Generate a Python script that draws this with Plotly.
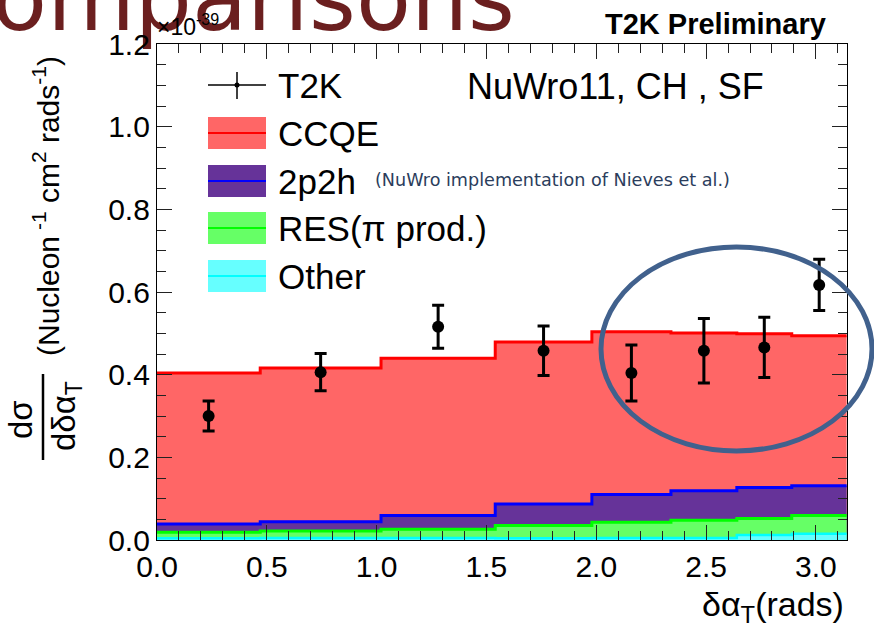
import numpy as np
import plotly.graph_objects as go

# ---------------- data (units of 1e-39 cm^2 / nucleon / rad) ----------------
bin_edges = [0.0, 0.47, 1.02, 1.54, 1.98, 2.34, 2.64, 2.89, 3.14]
other = [0.004, 0.005, 0.005, 0.004, 0.005, 0.005, 0.012, 0.015]
res = [0.015, 0.017, 0.021, 0.031, 0.038, 0.043, 0.040, 0.044]
twop2h = [0.020, 0.022, 0.033, 0.052, 0.067, 0.071, 0.075, 0.072]
ccqe = [0.365, 0.372, 0.381, 0.392, 0.394, 0.382, 0.372, 0.363]

t2k_x = [0.235, 0.745, 1.28, 1.76, 2.16, 2.49, 2.765, 3.015]
t2k_y = [0.300, 0.406, 0.516, 0.458, 0.404, 0.458, 0.466, 0.617]
t2k_err = [0.036, 0.045, 0.052, 0.060, 0.068, 0.078, 0.073, 0.062]

x_ticks = [0.0, 0.5, 1.0, 1.5, 2.0, 2.5, 3.0]
y_ticks = [0.0, 0.2, 0.4, 0.6, 0.8, 1.0, 1.2]

# stacked (cumulative) totals
c_other = np.array(other)
c_res = c_other + np.array(res)
c_2p2h = c_res + np.array(twop2h)
c_ccqe = c_2p2h + np.array(ccqe)

# ---------------- layout geometry (pixels) ----------------
W_FIG, H_FIG = 874, 630
L, R, T, B = 157, 847, 44, 540
PW, PH = R - L, B - T
X_MAX, Y_MAX = np.pi, 1.2


def px(xp):
    return (xp - L) / PW


def py(yp):
    return (B - yp) / PH


FONT = "Liberation Sans, Arial, Helvetica, sans-serif"

fig = go.Figure()


def step_trace(cum, fillcolor, linecolor, lw):
    ys = list(cum) + [cum[-1]]
    return go.Scatter(
        x=bin_edges, y=ys, mode="lines", line=dict(shape="hv", color=linecolor, width=lw),
        fill="tozeroy", fillcolor=fillcolor, showlegend=False, hoverinfo="skip",
    )


fig.add_trace(step_trace(c_ccqe, "#ff6666", "#ff0000", 3))
fig.add_trace(step_trace(c_2p2h, "#663399", "#0000ff", 3))
fig.add_trace(step_trace(c_res, "#66ff66", "#00ff00", 3))
fig.add_trace(step_trace(c_other, "#66ffff", "#00ffff", 2.5))

fig.add_trace(go.Scatter(
    x=t2k_x, y=t2k_y, mode="markers",
    marker=dict(color="black", size=12, symbol="circle"),
    error_y=dict(type="data", array=t2k_err, color="black", thickness=3, width=6),
    showlegend=False, hoverinfo="skip",
))

# slide title fragment, cut by the top edge of the picture.
# Anchored inside the plot range (so it is not hidden) and drawn above it without clipping.
fig.add_trace(go.Scatter(
    x=[px(515) * X_MAX], y=[py(52) * Y_MAX], mode="text", text=["omparisons"], textposition="top left",
    textfont=dict(family="DejaVu Sans", size=90, color="#6b1f1f"),
    cliponaxis=False, showlegend=False, hoverinfo="skip",
))

shapes = []
annotations = []

# legend symbols
shapes.append(dict(type="line", xref="paper", yref="paper", x0=px(208), x1=px(266), y0=py(85), y1=py(85),
                   line=dict(color="black", width=1.5)))
shapes.append(dict(type="line", xref="paper", yref="paper", x0=px(237), x1=px(237), y0=py(72), y1=py(99),
                   line=dict(color="black", width=1.5)))
shapes.append(dict(type="circle", xref="paper", yref="paper", x0=px(234.5), x1=px(239.5), y0=py(87.5), y1=py(82.5),
                   fillcolor="black", line=dict(color="black", width=0)))
legend_items = [
    ("CCQE", "#ff6666", "#ff0000", 133),
    ("2p2h", "#663399", "#0000ff", 181),
    ("RES(π prod.)", "#66ff66", "#00ff00", 228),
    ("Other", "#66ffff", "#00ffff", 276),
]
for label, fc, lc, yc in legend_items:
    shapes.append(dict(type="rect", xref="paper", yref="paper", x0=px(208), x1=px(266), y0=py(yc + 16), y1=py(yc - 16),
                       fillcolor=fc, line=dict(width=0)))
    shapes.append(dict(type="line", xref="paper", yref="paper", x0=px(208), x1=px(266), y0=py(yc), y1=py(yc),
                       line=dict(color=lc, width=2)))
for label, yc in [("T2K", 85)] + [(it[0], it[3]) for it in legend_items]:
    annotations.append(dict(xref="paper", yref="paper", x=px(276), y=py(yc), text=label, showarrow=False,
                            xanchor="left", yanchor="middle", font=dict(family=FONT, size=35, color="black")))

annotations.append(dict(xref="paper", yref="paper", x=px(373), y=py(180),
                        text="(NuWro implementation of Nieves et al.)", showarrow=False,
                        xanchor="left", yanchor="middle", font=dict(family="DejaVu Sans", size=17.6, color="#2b3d5c")))
annotations.append(dict(xref="paper", yref="paper", x=px(465), y=py(86), text="NuWro11, CH , SF", showarrow=False,
                        xanchor="left", yanchor="middle", font=dict(family=FONT, size=36, color="black")))

# top texts
annotations.append(dict(xref="paper", yref="paper", x=px(155), y=py(42), text="×10<sup>-39</sup>", showarrow=False,
                        xanchor="left", yanchor="bottom", font=dict(family=FONT, size=23, color="black")))
annotations.append(dict(xref="paper", yref="paper", x=px(828), y=py(24), text="<b>T2K Preliminary</b>",
                        showarrow=False, xanchor="right", yanchor="middle",
                        font=dict(family=FONT, size=29, color="black")))

# axis titles
annotations.append(dict(xref="paper", yref="paper", x=px(846), y=py(606), text="δα<sub>T</sub>(rads)",
                        showarrow=False, xanchor="right", yanchor="middle",
                        font=dict(family=FONT, size=34, color="black")))
annotations.append(dict(xref="paper", yref="paper", x=px(46), y=py(206),
                        text="(Nucleon<sup> -1</sup> cm<sup>2</sup> rads<sup>-1</sup>)", showarrow=False,
                        textangle=-90, xanchor="center", yanchor="middle",
                        font=dict(family=FONT, size=30, color="black")))
annotations.append(dict(xref="paper", yref="paper", x=px(20), y=py(420), text="dσ", showarrow=False,
                        textangle=-90, xanchor="center", yanchor="middle",
                        font=dict(family=FONT, size=33, color="black")))
annotations.append(dict(xref="paper", yref="paper", x=px(66), y=py(416), text="dδα<sub>T</sub>", showarrow=False,
                        textangle=-90, xanchor="center", yanchor="middle",
                        font=dict(family=FONT, size=33, color="black")))
shapes.append(dict(type="line", xref="paper", yref="paper", x0=px(43), x1=px(43), y0=py(374), y1=py(460),
                   line=dict(color="black", width=2.5)))

# highlight ellipse
shapes.append(dict(type="circle", xref="paper", yref="paper", x0=px(601), x1=px(872), y0=py(451), y1=py(247),
                   line=dict(color="#41618d", width=5)))

axis_common = dict(
    showgrid=False, zeroline=False, showline=True, linecolor="black", linewidth=1.2, mirror="allticks",
    ticks="inside", ticklen=15, tickwidth=1.2, tickcolor="#222222",
    tickfont=dict(family=FONT, size=30, color="black"), tickformat=".1f",
)
fig.update_layout(
    width=W_FIG, height=H_FIG, margin=dict(l=L, r=W_FIG - R, t=T, b=H_FIG - B),
    paper_bgcolor="white", plot_bgcolor="white", showlegend=False,
    xaxis=dict(range=[0, X_MAX], tickvals=x_ticks,
               minor=dict(ticks="inside", dtick=0.1, tick0=0, ticklen=9, tickwidth=1.2, tickcolor="#222222"),
               **axis_common),
    yaxis=dict(range=[0, Y_MAX], tickvals=y_ticks,
               minor=dict(ticks="inside", dtick=0.05, tick0=0, ticklen=9, tickwidth=1.2, tickcolor="#222222"),
               **axis_common),
    shapes=shapes, annotations=annotations,
)

fig.write_html("out.html")
